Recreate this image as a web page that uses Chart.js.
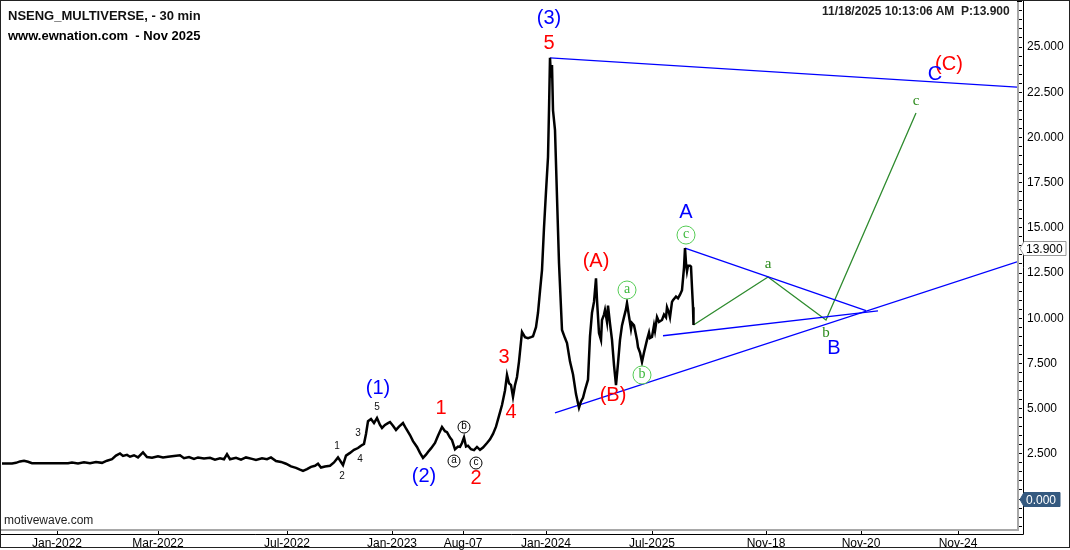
<!DOCTYPE html>
<html lang="en">
<head>
<meta charset="UTF-8">
<title>NSENG_MULTIVERSE - 30 min</title>
<script src="https://cdn.jsdelivr.net/npm/chart.js"></script>
<style>
  html, body { margin: 0; padding: 0; background: #fff; }
  .wrap { position: relative; width: 1070px; height: 550px; }
  canvas { display: block; }
  .txt { position: absolute; font-family: "Liberation Sans", Arial, sans-serif; white-space: pre; color: #111; }
  .title { left: 8px; top: 8px; font-size: 13px; line-height: 15px; font-weight: bold; }
  .site { left: 8px; top: 28px; font-size: 13px; line-height: 15px; font-weight: bold; color: #000; }
  .stamp { left: 822px; top: 4px; font-size: 12px; line-height: 14px; font-weight: bold; color: #222; }
  .brand { left: 4px; top: 513px; font-size: 12px; line-height: 14px; color: #222; }
</style>
</head>
<body>
<div class="wrap">
  <canvas id="ewChart" width="1070" height="550"></canvas>
  <div class="txt title">NSENG_MULTIVERSE, - 30 min</div>
  <div class="txt site">www.ewnation.com  - Nov 2025</div>
  <div class="txt stamp">11/18/2025 10:13:06 AM  P:13.900</div>
  <div class="txt brand">motivewave.com</div>
</div>

<script>
  // x axis = bar index, y axis = price
  const xTickBars = [57, 158, 287, 392, 463, 546, 652, 766, 861, 958];
  const xTickLabels = ['Jan-2022', 'Mar-2022', 'Jul-2022', 'Jan-2023', 'Aug-07', 'Jan-2024', 'Jul-2025', 'Nov-18', 'Nov-20', 'Nov-24'];

  const priceBars = [2, 12, 16, 20, 24, 28, 32, 45, 68, 72, 78, 84, 90, 96, 102, 107, 112, 116, 120, 123,
    127, 130, 134, 138, 143, 147, 152, 158, 163, 168, 174, 180, 184, 189, 194, 198, 204, 210, 215, 220,
    224, 227, 230, 236, 241, 246, 252, 256, 262, 267, 271, 276, 281, 286, 291, 296, 300, 303, 307, 311,
    315, 318, 321, 325, 330, 334, 338, 341, 343, 346, 350, 354, 358, 361, 364, 366, 368, 371, 374, 377,
    380, 382, 385, 388, 390, 393, 396, 399, 403, 406, 410, 413, 417, 420, 423, 426, 428, 431, 435, 438,
    442, 445, 447, 450, 452, 455, 458, 460, 462, 464, 466, 468, 471, 474, 477, 480, 483, 487, 490, 493,
    496, 499, 502, 505, 507, 509, 511, 513, 515, 517, 519, 522, 525, 528, 531, 533, 536, 538, 540, 542,
    544, 546, 548, 549, 550, 551, 552, 553, 555, 557, 559, 562, 565, 567, 570, 573, 576, 578, 579, 581,
    583, 585, 588, 590, 592, 594, 596, 597, 599, 601, 602, 604, 605, 607, 608, 610, 612, 614, 616, 618,
    620, 622, 624, 626, 627, 629, 631, 632, 634, 635, 637, 638, 640, 642, 644, 647, 649, 650, 652, 654,
    655, 657, 659, 662, 664, 666, 667, 669, 670, 672, 673, 676, 678, 680, 682, 684, 685, 686, 687, 688,
    690, 691, 692, 693, 693.5];
  const priceValues = [1.97, 1.97, 2.0, 2.08, 2.12, 2.06, 1.98, 1.98, 1.98, 2.02, 1.97, 2.03, 1.98, 2.05, 2.0, 2.12, 2.2, 2.4, 2.52, 2.38,
    2.44, 2.34, 2.42, 2.3, 2.58, 2.32, 2.28, 2.36, 2.3, 2.34, 2.38, 2.42, 2.26, 2.32, 2.22, 2.3, 2.24, 2.28, 2.18, 2.25,
    2.2, 2.48, 2.2, 2.28, 2.18, 2.3, 2.22, 2.16, 2.25, 2.2, 2.3, 2.1, 2.05, 1.95, 1.8, 1.72, 1.62, 1.55, 1.65, 1.78,
    1.84, 1.95, 1.74, 1.8, 1.84, 2.02, 2.3, 2.05, 1.88, 2.4, 2.55, 2.72, 2.82, 2.95, 3.05, 3.6, 4.3, 4.42, 4.2, 4.48,
    4.1, 3.93, 4.1, 4.2, 4.26, 4.05, 3.82, 4.0, 4.2, 3.9, 3.54, 3.2, 2.88, 2.55, 2.27, 2.45, 2.6, 2.8, 3.1, 3.5,
    3.98, 3.75, 3.7, 3.4, 3.26, 2.75, 2.9, 2.88, 3.1, 3.4, 2.9, 2.95, 2.75, 2.7, 2.88, 2.72, 2.85, 3.1, 3.3, 3.6,
    4.0, 4.6, 5.2, 6.0, 6.86, 6.4, 6.3, 5.64, 6.3, 6.75, 7.6, 9.24, 8.95, 8.9, 8.95, 9.0, 9.5, 10.3, 11.5, 12.66,
    15.0, 17.0, 18.9, 21.5, 24.4, 23.3, 24.0, 21.5, 20.4, 16.7, 13.05, 9.35, 8.9, 8.63, 7.6, 6.9, 5.8, 5.3, 5.05, 5.4,
    5.6, 6.03, 6.6, 9.0, 10.3, 10.9, 12.2, 11.0, 9.18, 8.8, 9.9, 10.2, 10.45, 9.8, 10.7, 9.7, 8.8, 7.4, 6.3, 7.5,
    8.8, 9.6, 10.06, 10.5, 10.84, 10.1, 9.4, 9.73, 9.6, 9.35, 8.8, 8.4, 8.1, 7.58, 8.1, 8.8, 9.2, 8.9, 8.96, 9.6,
    9.3, 10.06, 9.8, 9.9, 10.2, 10.05, 10.6, 10.3, 10.06, 10.9, 11.0, 11.2, 11.1, 11.3, 11.55, 12.8, 13.88, 13.05, 12.6, 12.9,
    12.9, 12.85, 11.7, 10.6, 9.62];

  // trend lines: [bar, value] end points
  const topLine = [[550, 24.4], [1017, 22.78]];
  const baseLine = [[555, 4.76], [1017, 13.12]];
  const triUpper = [[685, 13.88], [866, 10.42]];
  const triLower = [[663, 9.03], [878, 10.4]];
  // projected abc path
  const projBars = [693.5, 768, 826, 916];
  const projValues = [9.62, 12.28, 9.9, 21.35];

  // wave labels: text, bar, value, style
  const waveLabels = [
    ['(3)', 549, 26.55, 'blue'], ['5', 549, 25.22, 'red'],
    ['(C)', 949, 24.06, 'red'], ['C', 935, 23.5, 'blue'], ['c', 916, 22.0, 'green'],
    ['A', 686, 15.87, 'blue'], ['c', 686, 14.6, 'ring'],
    ['a', 768, 13.0, 'green'], ['b', 826, 9.18, 'green'], ['B', 834, 8.35, 'blue'],
    ['(A)', 596, 13.11, 'red'], ['(B)', 613, 5.7, 'red'],
    ['a', 627, 11.56, 'ring'], ['b', 642, 6.86, 'ring'],
    ['3', 504, 7.8, 'red'], ['4', 511, 4.81, 'red'],
    ['(1)', 378, 6.14, 'blue'], ['5', 377, 5.09, 'small'],
    ['1', 441, 5.03, 'red'], ['(2)', 424, 1.27, 'blue'], ['2', 476, 1.16, 'red'],
    ['a', 454, 2.1, 'dot'], ['b', 464, 3.98, 'dot'], ['c', 476, 1.99, 'dot'],
    ['1', 337, 2.93, 'small'], ['2', 342, 1.27, 'small'], ['3', 358, 3.65, 'small'], ['4', 360, 2.21, 'small']
  ];

  const lastPrice = 13.9;

  const SANS = '"Liberation Sans", Arial, sans-serif';
  const SERIF = '"Liberation Serif", "Times New Roman", serif';
  const labelStyles = {
    red:   { font: '20px ' + SANS, color: '#ff0000' },
    blue:  { font: '20px ' + SANS, color: '#0000ff' },
    green: { font: '15px ' + SERIF, color: '#2a8a1a' },
    ring:  { font: '14px ' + SERIF, color: '#3cb83c', ring: 9, ringColor: '#55cc55' },
    dot:   { font: '10px ' + SANS, color: '#000', ring: 6, ringColor: '#000' },
    small: { font: '10px ' + SANS, color: '#111' }
  };

  const toPts = pairs => pairs.map(p => ({ x: p[0], y: p[1] }));

  Chart.defaults.font.family = SANS;

  const wavePlugin = {
    id: 'waves',
    afterDatasetsDraw(chart) {
      const { ctx, scales: { x, y } } = chart;
      ctx.save();
      ctx.textAlign = 'center';
      ctx.textBaseline = 'middle';
      waveLabels.forEach(([text, bar, val, style]) => {
        const st = labelStyles[style];
        const px = x.getPixelForValue(bar);
        const py = y.getPixelForValue(val);
        if (st.ring) {
          ctx.beginPath();
          ctx.arc(px, py, st.ring, 0, Math.PI * 2);
          ctx.fillStyle = '#fff';
          ctx.fill();
          ctx.lineWidth = 1;
          ctx.strokeStyle = st.ringColor;
          ctx.stroke();
        }
        ctx.font = st.font;
        ctx.fillStyle = st.color;
        ctx.fillText(text, px, py + (st.ring ? -1 : 0));
      });
      ctx.restore();
    },
    afterDraw(chart) {
      const { ctx, chartArea: a, scales: { y } } = chart;
      ctx.save();
      // plot border
      ctx.strokeStyle = '#a8a8a8';
      ctx.lineWidth = 2;
      ctx.beginPath();
      ctx.moveTo(0, a.bottom + 1); ctx.lineTo(a.right + 1, a.bottom + 1); ctx.lineTo(a.right + 1, 2);
      ctx.stroke();
      // axis lines
      ctx.strokeStyle = '#000';
      ctx.lineWidth = 1;
      ctx.beginPath();
      ctx.moveTo(a.right + 6.5, 0); ctx.lineTo(a.right + 6.5, a.bottom + 5.5); ctx.lineTo(0, a.bottom + 5.5);
      ctx.stroke();
      ctx.strokeStyle = '#222';
      ctx.strokeRect(0.5, 0.5, 1069, 547);

      // price markers on the axis
      const marker = (val, txt, fill, stroke, textColor, w) => {
        const py = Math.round(y.getPixelForValue(val)) + 0.5;
        const x0 = a.right + 3, x1 = x0 + 4, x2 = x1 + w;
        ctx.beginPath();
        ctx.moveTo(x0, py);
        ctx.lineTo(x1, py - 7); ctx.lineTo(x2, py - 7);
        ctx.lineTo(x2, py + 7); ctx.lineTo(x1, py + 7);
        ctx.closePath();
        ctx.fillStyle = fill; ctx.fill();
        ctx.strokeStyle = stroke; ctx.stroke();
        ctx.fillStyle = textColor;
        ctx.font = '12px ' + SANS;
        ctx.textAlign = 'left';
        ctx.textBaseline = 'middle';
        ctx.fillText(txt, x1 + 2, py + 1);
      };
      marker(lastPrice, lastPrice.toFixed(3), '#fff', '#999', '#000', 42);
      marker(0, (0).toFixed(3), '#34597f', '#34597f', '#fff', 36);
      ctx.restore();
    }
  };

  new Chart(document.getElementById('ewChart'), {
    type: 'line',
    data: {
      datasets: [
        { data: priceBars.map((b, i) => ({ x: b, y: priceValues[i] })), borderColor: '#000', borderWidth: 2.5 },
        { data: toPts(topLine), borderColor: '#0000ff', borderWidth: 1.3 },
        { data: toPts(baseLine), borderColor: '#0000ff', borderWidth: 1.3 },
        { data: toPts(triUpper), borderColor: '#0000ff', borderWidth: 1.3 },
        { data: toPts(triLower), borderColor: '#0000ff', borderWidth: 1.3 },
        { data: projBars.map((b, i) => ({ x: b, y: projValues[i] })), borderColor: '#2e8b2e', borderWidth: 1.3 }
      ]
    },
    options: {
      responsive: false,
      animation: false,
      events: [],
      elements: { point: { radius: 0 }, line: { tension: 0, fill: false } },
      layout: { padding: { top: 0, left: 0, right: 0, bottom: 0 } },
      plugins: { legend: { display: false }, tooltip: { enabled: false } },
      scales: {
        x: {
          type: 'linear',
          min: 0,
          max: 1017,
          afterBuildTicks: s => { s.ticks = xTickBars.map(v => ({ value: v })); },
          afterFit: s => { s.height = 21; s.paddingLeft = 0; s.paddingRight = 0; },
          grid: { drawOnChartArea: false, tickLength: 5, color: '#000' },
          border: { display: false },
          ticks: {
            autoSkip: false, maxRotation: 0, minRotation: 0, padding: 2,
            color: '#000', font: { size: 12 },
            callback: (v, i) => xTickLabels[i]
          }
        },
        y: {
          position: 'right',
          min: -1.659,
          max: 27.6,
          afterBuildTicks: s => {
            s.ticks = [];
            for (let k = -3; k <= 55; k++) s.ticks.push({ value: k / 2 });
          },
          afterFit: s => { s.width = 53; s.paddingTop = 0; s.paddingBottom = 0; },
          grid: { drawOnChartArea: false, tickLength: 5, color: '#000' },
          border: { display: false },
          ticks: {
            autoSkip: false, padding: 5, color: '#000', font: { size: 12 },
            callback: v => (v > 0 && v < 27 && Math.abs(v / 2.5 - Math.round(v / 2.5)) < 1e-6) ? v.toFixed(3) : ''
          }
        }
      }
    },
    plugins: [wavePlugin]
  });
</script>
</body>
</html>
